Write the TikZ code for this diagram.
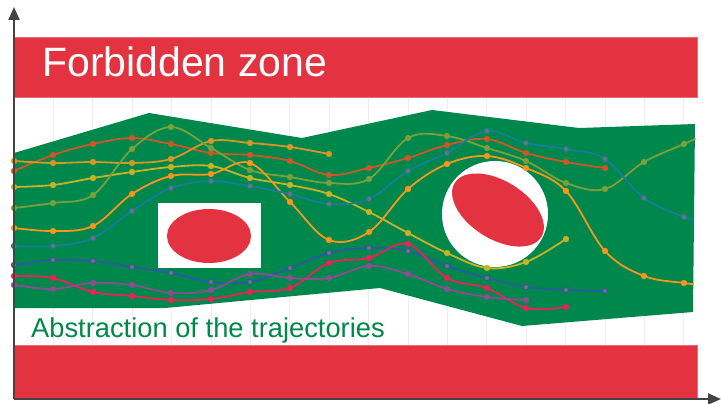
\documentclass[tikz,border=0pt]{standalone}
\usepackage{fontspec}
\setmainfont{Liberation Sans}
\usetikzlibrary{arrows.meta}
\definecolor{zred}{HTML}{E33240}
\definecolor{zredb}{HTML}{EC6A74}
\definecolor{zgreen}{HTML}{00874B}
\definecolor{axisgray}{HTML}{444444}
\definecolor{gridgray}{HTML}{EEEEEE}
\definecolor{cA}{RGB}{204,88,40}
\definecolor{cB}{RGB}{214,150,40}
\definecolor{cC}{RGB}{200,178,38}
\definecolor{cD}{RGB}{122,160,58}
\definecolor{cE}{RGB}{246,150,30}
\definecolor{cF}{RGB}{22,125,155}
\definecolor{cG}{RGB}{42,90,165}
\definecolor{cH}{RGB}{230,36,90}
\definecolor{cI}{RGB}{140,76,150}
\tikzset{
  band/.style={fill=zred, draw=zredb, line width=0.6pt},
  curve/.style={line width=1.8pt, line cap=round, line join=round},
  dotmark/.style={mark=*, mark size=2.9pt},
  ringmark/.style={mark=*, mark size=2.7pt, mark options={line width=0.9pt, fill=white!45!.}},
}
\newcommand\traj[4]{%
  \draw[curve, #1] plot[smooth, tension=0.6] coordinates {#2};
  \draw[#1, #4] plot[only marks] coordinates {#3};
}
\begin{document}
\begin{tikzpicture}[x=1pt, y=-1pt]
\useasboundingbox (0,0) rectangle (721,404);
\fill[white] (0,0) rectangle (721,404);
% grid
\foreach \i in {1,...,17} {
  \draw[gridgray, line width=0.8pt] ({14+39.4*\i},97) -- ({14+39.4*\i},345);
}
% bands
\path[band] (14,37) rectangle (697,97);
\path[band] (14,345) rectangle (697,398);
% green corridor
\fill[zgreen] (14,153) -- (149,113) -- (302,138) -- (432,110) -- (579,128) -- (695,124)
  -- (693,312) -- (522,326) -- (380,288) -- (165,308) -- (14,308) -- cycle;
% obstacles
\fill[white] (158,203) rectangle (261,268);
\fill[zred] (209,236) ellipse [x radius=42, y radius=27];
\fill[white] (495,214) circle [radius=53];
\fill[zred] (498,210) ellipse [x radius=51, y radius=29, rotate=-32];
% texts
\node[anchor=base west, inner sep=0, text=white, font=\fontsize{41}{41}\selectfont] (fz) at (42,77) {Forbidden zone};
\node[anchor=base west, inner sep=0, text=zgreen, font=\fontsize{27.3}{27.3}\selectfont] (at) at (31,337) {Abstraction of the trajectories};
% trajectories
\traj{cA}{(14,171)(53,155)(93,144)(132,138)(171,144)(211,153)(250,155)(290,161)(329,175)(369,168)(408,158)(447,145)(487,139)(526,153)(566,162)(605,168)}
  {(14,171)(53,155)(93,144)(132,138)(171,144)(211,153)(250,155)(290,161)(329,175)(369,168)(408,158)(447,145)(487,139)(526,153)(566,162)(605,168)}{dotmark}
\traj{cB}{(14,161)(53,163)(93,162)(132,163)(171,159)(211,141)(250,143)(290,147)(329,154)}
  {(14,161)(53,163)(93,162)(132,163)(171,159)(211,141)(250,143)(290,147)(329,154)}{dotmark}
\traj{cC}{(14,187)(53,185)(93,178)(132,172)(171,167)(211,166)(250,178)(290,185)(329,194)(369,212)(408,233)(447,253)(487,268)(526,262)(566,239)}
  {(14,187)(53,185)(93,178)(132,172)(171,167)(211,166)(250,178)(290,185)(329,194)(369,212)(408,233)(447,253)(487,268)(526,262)(566,239)}{dotmark}
\traj{cD}{(14,208)(53,203)(93,195)(132,149)(171,127)(211,148)(250,170)(290,177)(329,183)(369,179)(408,138)(447,136)(487,148)(526,161)(566,183)(605,189)(644,162)(684,144)(695,139)}
  {(14,208)(53,203)(93,195)(132,149)(171,127)(211,148)(250,170)(290,177)(329,183)(369,179)(408,138)(447,136)(487,148)(526,161)(566,183)(605,189)(644,162)(684,144)}{dotmark}
\traj{cE}{(14,228)(53,231)(93,226)(132,194)(171,176)(211,174)(250,163)(290,202)(329,240)(369,232)(408,189)(447,164)(487,156)(526,168)(566,191)(605,251)(644,276)(684,283)(693,284)}
  {(14,228)(53,231)(93,226)(132,194)(171,176)(211,174)(250,163)(290,202)(329,240)(369,232)(408,189)(447,164)(487,156)(526,168)(566,191)(605,251)(644,276)(684,283)}{dotmark}
\traj{cF}{(14,246)(53,246)(93,238)(132,211)(171,188)(211,181)(250,186)(290,194)(329,204)(369,199)(408,171)(447,153)(487,131)(526,143)(566,149)(605,159)(644,198)(684,217)(693,219)}
  {(14,246)(53,246)(93,238)(132,211)(171,188)(211,181)(250,186)(290,194)(329,204)(369,199)(408,171)(447,153)(487,131)(526,143)(566,149)(605,159)(644,198)(684,217)}{ringmark}
\traj{cG}{(14,265)(53,260)(93,261)(132,267)(171,273)(211,282)(250,282)(290,268)(329,253)(369,248)(408,251)(447,266)(487,278)(526,287)(566,290)(605,291)}
  {(14,265)(53,260)(93,261)(132,267)(171,273)(211,282)(250,282)(290,268)(329,253)(369,248)(408,251)(447,266)(487,278)(526,287)(566,290)(605,291)}{ringmark}
\traj{cH}{(14,276)(53,278)(93,292)(132,296)(171,300)(211,299)(250,292)(290,288)(329,263)(369,258)(408,244)(447,278)(487,288)(526,308)(566,307)}
  {(14,276)(53,278)(93,292)(132,296)(171,300)(211,299)(250,292)(290,288)(329,263)(369,258)(408,244)(447,278)(487,288)(526,308)(566,307)}{dotmark}
\traj{cI}{(14,285)(53,289)(93,283)(132,285)(171,293)(211,290)(250,274)(290,278)(329,278)(369,266)(408,274)(447,289)(487,297)(526,300)}
  {(14,285)(53,289)(93,283)(132,285)(171,293)(211,290)(250,274)(290,278)(329,278)(369,266)(408,274)(447,289)(487,297)(526,300)}{dotmark}
% axes
\coordinate (o) at (14,399);
\coordinate (ytip) at (14,7);
\coordinate (xtip) at (721,399);
\draw[axisgray, line width=2pt, -{Triangle[length=13pt, width=11pt]}] (o) -- (ytip);
\draw[axisgray, line width=2pt, -{Triangle[length=13pt, width=11pt]}] (o) -- (xtip);
\end{tikzpicture}
\end{document}
